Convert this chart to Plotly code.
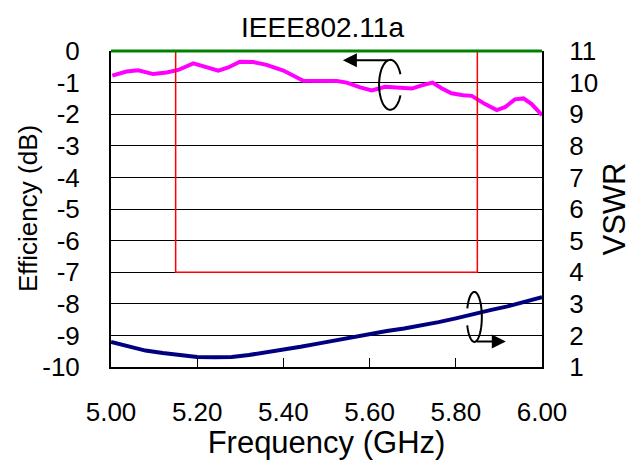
import numpy as np
import plotly.graph_objects as go

# ---------------- data ----------------
eff_freq = [5.003, 5.036, 5.063, 5.098, 5.129, 5.156, 5.191, 5.222, 5.249, 5.272,
            5.299, 5.330, 5.361, 5.400, 5.423, 5.446, 5.524, 5.547, 5.578, 5.605,
            5.636, 5.671, 5.698, 5.721, 5.746, 5.767, 5.790, 5.817, 5.837, 5.868,
            5.895, 5.914, 5.937, 5.957, 5.976, 6.000]
eff_db = [-0.78, -0.65, -0.61, -0.73, -0.68, -0.60, -0.39, -0.50, -0.62, -0.52,
          -0.34, -0.35, -0.44, -0.62, -0.79, -0.94, -0.95, -1.00, -1.15, -1.25,
          -1.13, -1.18, -1.19, -1.09, -1.00, -1.18, -1.34, -1.40, -1.42, -1.68,
          -1.87, -1.78, -1.53, -1.50, -1.68, -2.03]

vswr_freq = [5.00, 5.04, 5.08, 5.12, 5.16, 5.20, 5.24, 5.28, 5.32, 5.36, 5.40,
             5.44, 5.48, 5.52, 5.56, 5.60, 5.64, 5.68, 5.72, 5.76, 5.80, 5.84,
             5.88, 5.92, 5.96, 6.00]
vswr = [1.79, 1.64, 1.52, 1.44, 1.37, 1.32, 1.31, 1.32, 1.38, 1.46, 1.55,
        1.64, 1.74, 1.84, 1.96, 2.06, 2.14, 2.22, 2.31, 2.42, 2.54, 2.68,
        2.80, 2.92, 3.06, 3.21]

x_ticks = [5.0, 5.2, 5.4, 5.6, 5.8, 6.0]
x_ticklabels = ["5.00", "5.20", "5.40", "5.60", "5.80", "6.00"]
eff_ticks = [0, -1, -2, -3, -4, -5, -6, -7, -8, -9, -10]
eff_ticklabels = ["0", "-1", "-2", "-3", "-4", "-5", "-6", "-7", "-8", "-9", "-10"]
vswr_ticks = [1, 2, 3, 4, 5, 6, 7, 8, 9, 10, 11]

# band limits (IEEE802.11a) and efficiency floor
band_lo, band_hi = 5.15, 5.85
eff_floor = -7

FONT = "Liberation Sans, Arial, sans-serif"
FS = 26

fig = go.Figure()
fig.add_trace(go.Scatter(x=eff_freq, y=eff_db, mode="lines",
                         line=dict(color="#FF00FF", width=4), yaxis="y",
                         showlegend=False))
fig.add_trace(go.Scatter(x=vswr_freq, y=vswr, mode="lines",
                         line=dict(color="#000080", width=4), yaxis="y2",
                         showlegend=False))


def ellipse_path(cx, cy, rx, ry, a0, a1, n=60):
    t = np.linspace(np.radians(a0), np.radians(a1), n)
    xs = cx + rx * np.cos(t)
    ys = cy + ry * np.sin(t)
    return "M " + " L ".join(f"{a:.5f},{b:.5f}" for a, b in zip(xs, ys))


shapes = [
    dict(type="rect", xref="x", yref="y", x0=band_lo, x1=band_hi, y0=eff_floor, y1=0,
         line=dict(color="#FF0000", width=1.5)),
    dict(type="line", xref="paper", yref="paper", x0=0, x1=1, y0=1, y1=1,
         line=dict(color="#008000", width=3)),
    # rotation symbol (upper)
    dict(type="path", xref="x", yref="y",
         path=ellipse_path(5.648, -1.07, 0.026, 0.79, 25, 335),
         line=dict(color="black", width=2)),
    # rotation symbol (lower)
    dict(type="path", xref="x", yref="y2",
         path=ellipse_path(5.843, 2.585, 0.0174, 0.79, -160, 160),
         line=dict(color="black", width=2)),
]

annotations = [
    dict(x=5.538, y=-0.29, ax=5.647, ay=-0.29, xref="x", yref="y", axref="x", ayref="y",
         showarrow=True, arrowhead=2, arrowsize=1.4, arrowwidth=2, arrowcolor="black", text=""),
    dict(x=5.916, y=1.81, ax=5.845, ay=1.81, xref="x", yref="y2", axref="x", ayref="y2",
         showarrow=True, arrowhead=2, arrowsize=1.4, arrowwidth=2, arrowcolor="black", text=""),
    # left axis title
    dict(text="Efficiency (dB)", textangle=-90, xref="paper", yref="paper",
         x=(28 - 111) / 431, y=0.5, xanchor="center", yanchor="middle",
         showarrow=False, font=dict(size=FS)),
]

fig.update_layout(
    width=635, height=460,
    margin=dict(l=111, r=93, t=51, b=93, autoexpand=False),
    paper_bgcolor="white", plot_bgcolor="white",
    font=dict(family=FONT, size=FS, color="black"),
    title=dict(text="IEEE802.11a", x=322.5 / 635, xanchor="center", y=1 - 27 / 460,
               yanchor="middle", yref="container", font=dict(size=28)),
    xaxis=dict(range=[5.0, 6.0], tickvals=x_ticks, ticktext=x_ticklabels,
               ticks="inside", ticklen=9, tickcolor="black", tickwidth=1,
               showline=True, linecolor="black", linewidth=2, mirror=False,
               showgrid=False, zeroline=False, ticklabelstandoff=21, automargin=False,
               title=dict(text="Frequency (GHz)", standoff=6)),
    yaxis=dict(range=[-10, 0], tickvals=eff_ticks, ticktext=eff_ticklabels, ticks="",
               showline=True, linecolor="black", linewidth=2, showgrid=True,
               gridcolor="black", gridwidth=1, zeroline=False, ticklabelstandoff=24,
               automargin=False),
    yaxis2=dict(range=[1, 11], tickvals=vswr_ticks, overlaying="y", side="right",
                ticks="", showline=True, linecolor="black", linewidth=2,
                showgrid=False, zeroline=False, ticklabelstandoff=20, automargin=False,
                title=dict(text="VSWR", standoff=6)),
    shapes=shapes, annotations=annotations,
)

fig.write_html("out.html", config={"displayModeBar": False},
               post_script="document.body.style.margin='0';")
